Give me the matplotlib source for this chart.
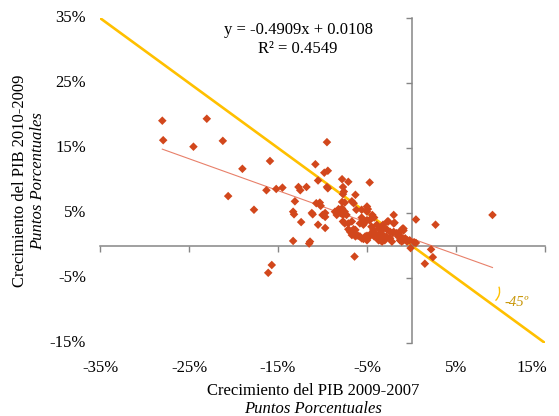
import matplotlib
matplotlib.use("Agg")
import matplotlib.pyplot as plt
from matplotlib.patches import Arc
import matplotlib.transforms as mtransforms
import numpy as np

plt.rcParams['font.family'] = ['Liberation Serif', 'DejaVu Serif']

# ---- data (percentage points) ----
pts = [(-28.0,19.2),(-27.9,16.2),(-24.5,15.2),(-23.0,19.5),(-21.2,16.1),(-19.0,11.8),(-20.6,7.6),(-17.7,5.5),
       (-15.9,13.0),(-16.3,8.5),(-15.7,-3.0),(-16.1,-4.2),(-15.2,8.7),(-14.5,8.9),(-13.3,0.7),(-13.1,6.8),
       (-13.3,5.2),(-13.2,4.8),(-12.7,9.0),(-12.5,8.5),(-12.4,3.6),(-11.8,9.0),(-11.5,0.3),(-11.2,5.0),
       (-11.1,4.8),(-10.8,12.5),(-10.5,10.0),(-10.5,3.2),(-10.7,6.5),(-10.3,6.6),(-10.2,6.1),(-9.8,11.2),
       (-9.4,11.5),(-9.5,15.9),(-10.0,4.7),(-9.7,5.0),(-9.7,2.7),(-9.5,9.0),(-9.4,8.8),(-7.8,10.2),
       (-7.1,9.8),(-4.7,9.7),(-7.7,9.0),(-7.6,8.3),(-7.7,7.9),(-6.3,7.8),(-6.7,6.8),(-6.5,6.5),
       (-7.8,6.7),(-7.5,6.6),(-5.0,6.0),(-4.9,5.6),(-6.2,5.5),(-8.2,5.6),(-8.0,5.5),(-8.0,5.0),
       (-7.7,4.7),(-7.3,4.7),(-5.6,4.3),(-4.5,4.2),(-7.7,3.7),(-7.5,3.4),(-6.7,3.7),(-5.8,3.4),
       (-5.4,3.2),(-4.5,2.9),(-7.1,2.5),(-6.7,2.2),(-6.3,2.4),(-6.2,1.6),(-5.8,1.4),(-5.0,1.5),
       (-4.7,1.4),(-4.3,2.4),(-4.1,1.9),(-3.7,1.1),(-5.4,1.0),(-6.4,-1.7),(-2.0,4.7),(0.5,4.0),
       (-2.7,3.7),(-1.9,3.5),(-4.4,4.7),(-4.2,4.3),(-3.3,2.8),(-3.2,2.5),(-1.0,2.6),(-0.9,2.3),
       (-2.0,2.1),(-1.7,1.9),(-4.5,1.9),(-4.2,1.4),(-3.5,1.9),(-3.2,1.6),(-2.8,1.4),(-3.7,0.8),
       (-3.3,0.6),(-3.0,0.8),(-2.4,1.1),(-2.2,0.6),(-1.5,1.4),(-1.3,0.8),(-1.1,0.6),(-0.7,1.1),
       (-0.5,0.8),(-0.2,0.8),(-0.1,-0.4),(-4.7,3.9),(2.7,3.2),(9.1,4.7),(-3.2,3.2),(2.2,-0.6),
       (2.4,-1.8),(1.5,-2.8),(-11.4,0.6),(-8.6,5.2),(-8.4,4.7),(-7.8,5.7),(-7.5,5.2),(-5.6,5.5),
       (-5.0,5.2),(-9.7,4.4),(-7.1,3.4),(-5.2,3.7),(-5.0,3.9),(-3.9,3.2),(-3.7,2.6),(-6.9,2.1),
       (-6.5,2.5),(-6.7,1.6),(-6.3,1.4),(-6.0,1.5),(-5.6,1.1),(-5.2,1.4),(-5.0,0.8),(-3.3,1.1),
       (-3.0,1.0),(-3.5,0.8),(-3.9,1.4),(-2.6,3.7),(-2.0,3.4),(-2.8,2.5),(-2.4,2.1),(-2.1,1.9),
       (-1.5,1.9),(-1.3,1.5),(-0.9,0.8),(-0.5,0.6),(-1.1,2.4),(-0.9,2.6),(0.3,0.5),(0.5,0.4)]
growth_2009_2007 = [p[0] for p in pts]
growth_2010_2009 = [p[1] for p in pts]

slope = -0.4909
intercept = 0.0108 * 100  # in percentage points
r2 = 0.4549

x_ticks = [-35, -25, -15, -5, 5, 15]
y_ticks = [-15, -5, 5, 15, 25, 35]
x_range = (-35, 15)
y_range = (-15, 35)

# ---- figure ----
W, H = 559, 416
fig = plt.figure(figsize=(W/100, H/100), dpi=100)
ax = fig.add_axes([100/W, 1-343/H, 445/W, 325/H])
ax.set_xlim(*x_range)
ax.set_ylim(*y_range)

ax.spines['left'].set_position(('data', 0))
ax.spines['bottom'].set_position(('data', 0))
ax.spines['right'].set_visible(False)
ax.spines['top'].set_visible(False)
for s in ('left', 'bottom'):
    ax.spines[s].set_color('#868686')
    ax.spines[s].set_linewidth(1.1)
ax.set_xticks(x_ticks)
ax.set_yticks(y_ticks)
ax.tick_params(axis='both', direction='out', length=4, width=1.0, color='#868686',
               labelbottom=False, labelleft=False)

# 45 degree line
ax.plot([x_range[0], x_range[1]], [-x_range[0], -x_range[1]], color='#FFC000', lw=1.9, zorder=2)

# trend line
xs = np.array([min(growth_2009_2007), max(growth_2009_2007)])
ax.plot(xs, slope*xs + intercept, color='#E8806A', lw=0.8, zorder=3)

# scatter
ax.scatter(growth_2009_2007, growth_2010_2009, marker='D', s=19, color='#D2471C',
           edgecolors='none', zorder=4)

# tick labels (Excel style, at plot-area edges)
fs = 12
bx = mtransforms.blended_transform_factory(ax.transData, fig.transFigure)
for i, t in enumerate(x_ticks):
    lab = f"{t}%"
    if i == len(x_ticks) - 1:
        ax.text(t + 0.3, 1-368/H, lab, transform=bx, ha='right', va='center', fontsize=fs)
    else:
        ax.text(t, 1-368/H, lab, transform=bx, ha='center', va='center', fontsize=fs)
by = mtransforms.blended_transform_factory(fig.transFigure, ax.transData)
for t in y_ticks:
    ax.text(86/W, t, f"{t}%", transform=by, ha='right', va='center', fontsize=fs)

# axis titles
fig.text(313/W, 1-391/H, "Crecimiento del PIB 2009-2007", ha='center', va='center', fontsize=fs)
fig.text(313/W, 1-409/H, "Puntos Porcentuales", ha='center', va='center', fontsize=fs, style='italic')
fig.text(20/W, 1-181/H, "Crecimiento del PIB 2010-2009", ha='center', va='center', fontsize=fs, rotation=90)
fig.text(38/W, 1-181/H, "Puntos Porcentuales", ha='center', va='center', fontsize=fs, rotation=90, style='italic')

# equation
fig.text(298/W, 1-30/H, f"y = {slope}x + {intercept/100:.4f}", ha='center', va='center', fontsize=fs)
fig.text(298/W, 1-49/H, f"R² = {r2}", ha='center', va='center', fontsize=fs)

# -45 annotation
arc = Arc((8.4, -7.0), 3.0, 4.1, theta1=-55, theta2=25, color='#FFC000', lw=1.0, zorder=3)
ax.add_patch(arc)
ax.text(10.5, -8.8, "-45º", ha='left', va='center', fontsize=10.5, style='italic', color='#C9980C')

fig.savefig('out.png', dpi=100)
